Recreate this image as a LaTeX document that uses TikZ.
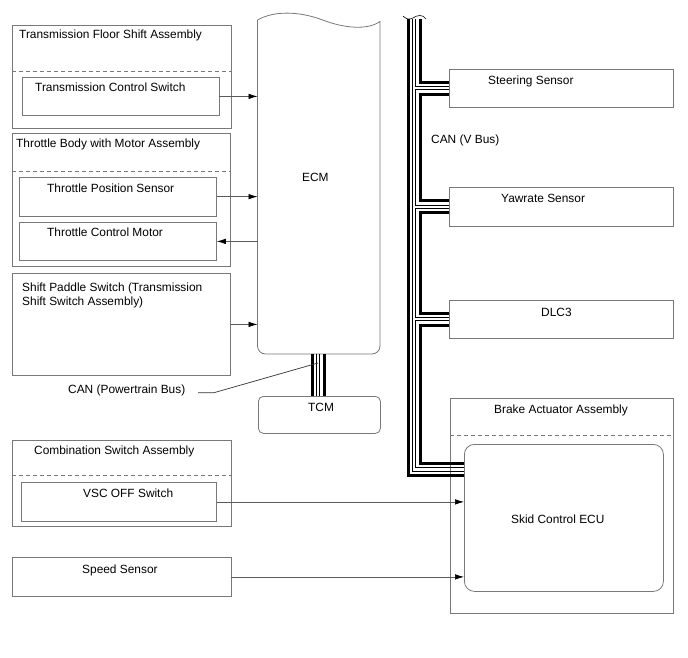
\documentclass[tikz,border=0pt]{standalone}
\usepackage{fontspec}
\setmainfont{Liberation Sans}
\usetikzlibrary{arrows.meta}
\definecolor{boxgray}{RGB}{120,120,120}
\definecolor{siggray}{RGB}{90,90,90}
\begin{document}
\begin{tikzpicture}[x=1pt,y=-1pt,
  box/.style={draw=boxgray, line width=0.8pt, rectangle, inner sep=0pt, anchor=north west},
  anch/.style={inner sep=0pt, anchor=north west},
  lbl/.style={anchor=base west, inner sep=0pt, font=\fontsize{11.9}{14}\selectfont},
  sepline/.style={draw=boxgray, line width=0.8pt, dash pattern=on 4pt off 3pt},
  sig/.style={draw=siggray, line width=0.7pt, -{Latex[length=9pt,width=5.5pt,color=black]}},
  thickbus/.style={line width=3pt, black},
  thinbus/.style={line width=0.6pt, black},
  leader/.style={line width=0.7pt, black!80}
]
\useasboundingbox (0,0) rectangle (688,658);

% ---------------- left boxes ----------------
\node[box, minimum width=219pt, minimum height=103pt] (tfs) at (12,25) {};
\draw[sepline] (12,71) -- (231,71);
\node[box, minimum width=197pt, minimum height=38pt] (tcs) at (21.5,77) {};
\node[lbl] (ttfs) at (19,39) {Transmission Floor Shift Assembly};
\node[lbl] (ttcs) at (35,91.7) {Transmission Control Switch};

\node[box, minimum width=218pt, minimum height=133pt] (tbm) at (12,133) {};
\draw[sepline] (12,171.5) -- (230,171.5);
\node[box, minimum width=197pt, minimum height=38.5pt] (tps) at (19,177) {};
\node[box, minimum width=197pt, minimum height=38pt] (tcmo) at (19,222) {};
\node[lbl] (ttbm) at (16,147.5) {Throttle Body with Motor Assembly};
\node[lbl] (ttps) at (47,192) {Throttle Position Sensor};
\node[lbl] (ttcmo) at (47,236) {Throttle Control Motor};

\node[box, minimum width=218pt, minimum height=102pt] (sps) at (12,273) {};
\node[lbl] (tsps1) at (22,291) {Shift Paddle Switch (Transmission};
\node[lbl] (tsps2) at (22,305.5) {Shift Switch Assembly)};

\node[box, minimum width=218.5pt, minimum height=86pt] (css) at (12,440) {};
\draw[sepline] (12,475) -- (230.5,475);
\node[box, minimum width=195pt, minimum height=39pt] (vsc) at (21,482) {};
\node[lbl] (tcss) at (34,454.5) {Combination Switch Assembly};
\node[lbl] (tvsc) at (83,497.5) {VSC OFF Switch};

\node[box, minimum width=218.5pt, minimum height=39pt] (spd) at (12,557) {};
\node[lbl] (tspd) at (82,573.5) {Speed Sensor};

% ---------------- ECM and TCM ----------------
\node[anch, minimum width=122.5pt, minimum height=336pt] (ecm) at (257.5,18) {};
\draw[boxgray, line width=0.8pt]
  (257.5,20) .. controls (275,10) and (300,12) .. (320,19)
  .. controls (345,29) and (368,30) .. (380,21.5)
  [rounded corners=8pt] -- (380,354) -- (257.5,354) [sharp corners] -- (257.5,20);
\node[lbl] (tecm) at (302,181) {ECM};

\node[box, rounded corners=5pt, minimum width=122pt, minimum height=37pt] (tcm) at (258,396) {};
\node[lbl] (ttcm) at (308,411) {TCM};

% powertrain CAN bus
\draw[thickbus] (312.5,354) -- (312.5,396);
\draw[thickbus] (324.5,354) -- (324.5,396);
\draw[thinbus] (316.5,354) -- (316.5,396);
\draw[thinbus] (319.5,354) -- (319.5,396);
\coordinate (ptbus) at (318,363);
\node[lbl] (tcanp) at (68,393.3) {CAN (Powertrain Bus)};
\draw[leader] (198,392.7) -- (214,392.7) -- (ptbus);

% ---------------- right boxes ----------------
\node[box, minimum width=224pt, minimum height=38.5pt] (steer) at (449,69) {};
\node[lbl] (tsteer) at (488,84.5) {Steering Sensor};
\node[box, minimum width=224pt, minimum height=38.5pt] (yaw) at (449,187) {};
\node[lbl] (tyaw) at (501,202.5) {Yawrate Sensor};
\node[box, minimum width=224pt, minimum height=38pt] (dlc) at (449,300) {};
\node[lbl] (tdlc) at (541,316.5) {DLC3};
\node[lbl] (tcanv) at (431,143.5) {CAN (V Bus)};

\node[box, minimum width=223pt, minimum height=215pt] (baa) at (450,398) {};
\draw[sepline] (450,435) -- (673,435);
\node[box, rounded corners=10pt, minimum width=199pt, minimum height=147pt] (skid) at (464,444) {};
\node[lbl] (tbaa) at (494,413.5) {Brake Actuator Assembly};
\node[lbl] (tskid) at (511,523.5) {Skid Control ECU};

% ---------------- V bus ----------------
\draw[line width=0.6pt] (403,16) .. controls (406,19) and (409,20) .. (413,18)
  .. controls (417,15) and (423,14) .. (426,19);
\draw[thickbus] (408,19) -- (408,475) -- (464,475);
\draw[thinbus] (412,19) -- (412,471) -- (464,471);
\draw[thinbus] (415.5,19) -- (415.5,86.8) -- (449,86.8);
\draw[thinbus] (449,89.8) -- (415.5,89.8) -- (415.5,205) -- (449,205);
\draw[thinbus] (449,208) -- (415.5,208) -- (415.5,317.5) -- (449,317.5);
\draw[thinbus] (449,320.5) -- (415.5,320.5) -- (415.5,467.5) -- (464,467.5);
\draw[thickbus] (420,19) -- (420,82.3) -- (449,82.3);
\draw[thickbus] (449,94.3) -- (420,94.3) -- (420,200.5) -- (449,200.5);
\draw[thickbus] (449,212.5) -- (420,212.5) -- (420,313) -- (449,313);
\draw[thickbus] (449,325) -- (420,325) -- (420,463) -- (464,463);

% ---------------- signal arrows ----------------
\draw[sig] (tcs.east) -- (tcs.east -| ecm.west);
\draw[sig] (tps.east) -- (tps.east -| ecm.west);
\draw[sig] (tcmo.east -| ecm.west) -- (tcmo.east);
\draw[sig] (sps.east) -- (sps.east -| ecm.west);
\draw[sig] (vsc.east) -- (vsc.east -| skid.west);
\draw[sig] (spd.east) -- (spd.east -| skid.west);
\end{tikzpicture}
\end{document}
